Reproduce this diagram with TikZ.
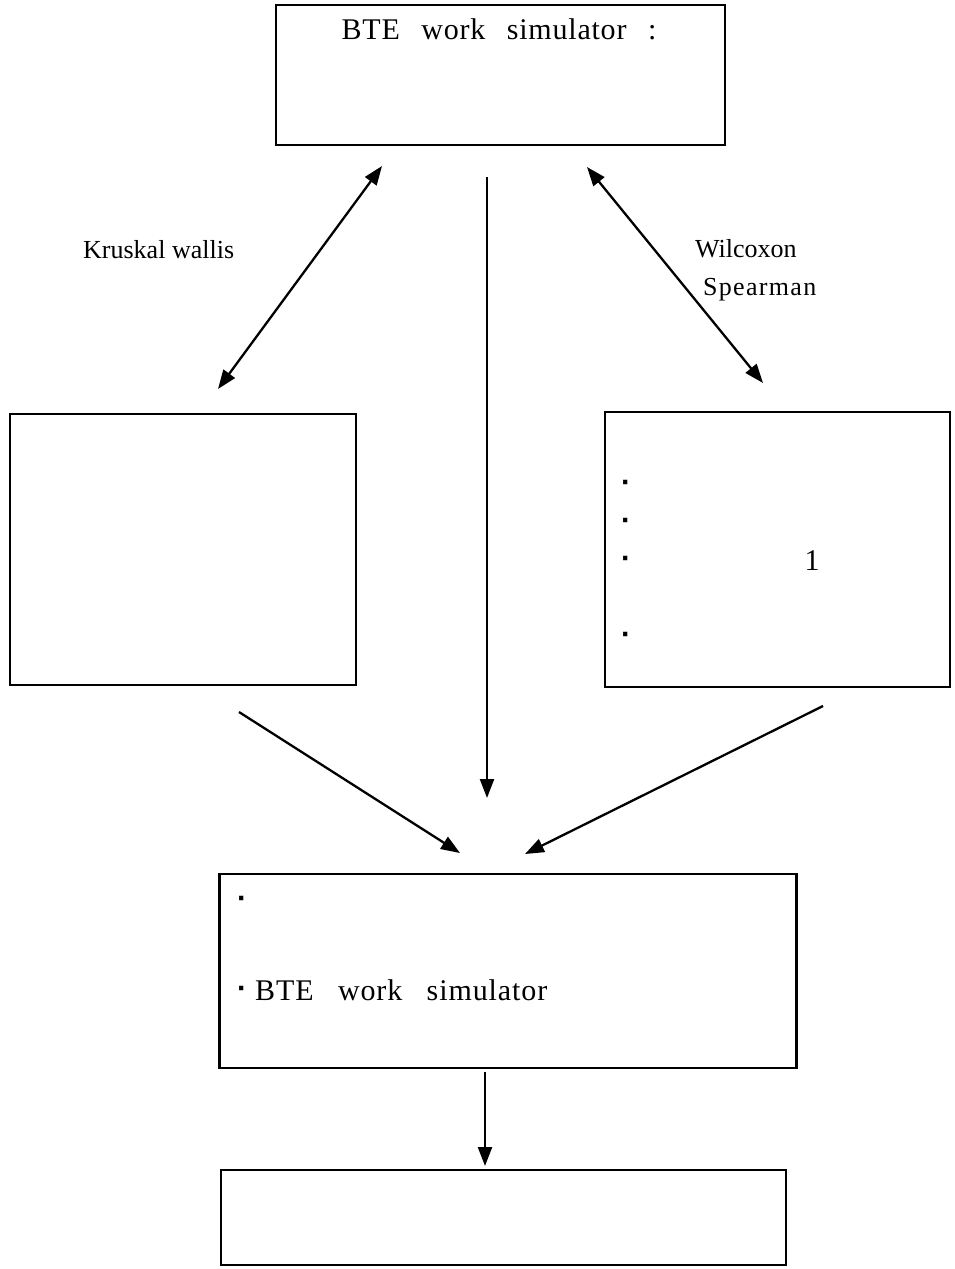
\documentclass[tikz,border=0pt]{standalone}
\usepackage{fontspec}
\setmainfont{Liberation Serif}
\newfontfamily\widefont[WordSpace=2.9,LetterSpace=3]{Liberation Serif}
\newfontfamily\titlefont[WordSpace=2.6,LetterSpace=2.6]{Liberation Serif}
\newfontfamily\dotfont{Liberation Sans}
\usetikzlibrary{arrows.meta}
\begin{document}
\begin{tikzpicture}[x=1pt,y=-1pt,
  box/.style={draw=black, line width=2.4pt, inner sep=0pt, fill=white},
  conn/.style={line width=2.3pt, -{Triangle[length=19pt,width=14pt]}},
  dconn/.style={line width=2.3pt, {Triangle[length=19pt,width=14pt]}-{Triangle[length=19pt,width=14pt]}},
  bigtxt/.style={font=\fontsize{30}{36}\selectfont, inner sep=0pt},
  lbltxt/.style={font=\fontsize{26}{31}\selectfont, inner sep=0pt},
  dottxt/.style={font=\fontsize{30}{36}\selectfont\dotfont\bfseries, inner sep=0pt},
]
\fill[white] (0,0) rectangle (955,1269);
\useasboundingbox (0,0) rectangle (955,1269);

% boxes
\node[box, minimum width=449pt, minimum height=140pt] (top) at (500.5,75) {};
\node[box, minimum width=346pt, minimum height=271pt] (left) at (183,549.5) {};
\node[box, minimum width=345pt, minimum height=275pt] (right) at (777.5,549.5) {};
\node[box, minimum width=577pt, minimum height=194pt] (mid) at (508,971) {};
\node[box, minimum width=565pt, minimum height=95pt] (bottom) at (503.5,1217.5) {};

% texts
\node[bigtxt, anchor=base] (title) at (499,39) {\titlefont BTE work simulator :};
\node[lbltxt, anchor=base west] (kw) at (83,258) {Kruskal wallis};
\node[lbltxt, anchor=base west] (wil) at (695,257) {Wilcoxon};
\node[lbltxt, anchor=base west] (spe) at (703,295) {\addfontfeature{LetterSpace=5}Spearman};

\node[dottxt, anchor=base] (rd1) at (626,492) {·};
\node[dottxt, anchor=base] (rd2) at (626,530) {·};
\node[dottxt, anchor=base] (rd3) at (626,568) {·};
\node[dottxt, anchor=base] (rd4) at (626,644) {·};
\node[bigtxt, anchor=base] (one) at (812,570) {1};

\node[dottxt, anchor=base] (md1) at (242,908) {·};
\node[dottxt, anchor=base] (md2a) at (242,998) {·};
\node[bigtxt, anchor=base west] (md2) at (255,1000) {\widefont BTE work simulator};

% connector ends
\coordinate (kwA) at (218,389);
\coordinate (kwB) at (382,166);
\coordinate (wsA) at (587,167);
\coordinate (wsB) at (763,383);
\coordinate (cA) at (487,177);
\coordinate (cB) at (487,798);
\coordinate (lA) at (239,712);
\coordinate (lB) at (460,853);
\coordinate (rA) at (823,706);
\coordinate (rB) at (525,854);
\coordinate (bA) at (485,1072);
\coordinate (bB) at (485,1166);

% connectors
\draw[dconn] (kwA) -- (kwB);
\draw[dconn] (wsA) -- (wsB);
\draw[conn] (cA) -- (cB);
\draw[conn] (lA) -- (lB);
\draw[conn] (rA) -- (rB);
\draw[conn] (bA) -- (bB);
\end{tikzpicture}
\end{document}
